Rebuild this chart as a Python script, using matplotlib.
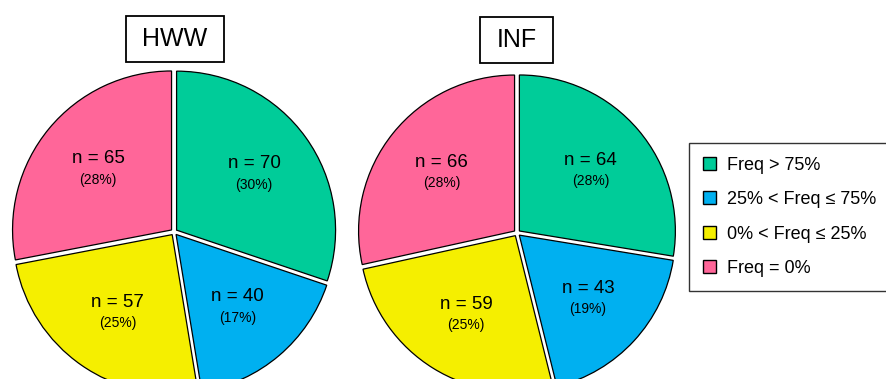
import matplotlib
matplotlib.use("Agg")
import matplotlib.pyplot as plt
from matplotlib.patches import Patch, Rectangle
import numpy as np

plt.rcParams['font.family'] = ['Liberation Sans', 'DejaVu Sans']

categories = ["Freq > 75%", "25% < Freq \u2264 75%", "0% < Freq \u2264 25%", "Freq = 0%"]
colors = ["#00CC99", "#00B0F0", "#F5EF00", "#FF6699"]
groups = ["HWW", "INF"]
hww_counts = [70, 40, 57, 65]
inf_counts = [64, 43, 59, 66]

W, H = 887, 379
fig = plt.figure(figsize=(W / 100, H / 100), dpi=100)

# layout: (center x, center y, radius) in pixels, title box (x0, y0, x1, y1)
layouts = [
    ((174, 232, 159), (126, 16, 224, 62)),
    ((517, 233, 156), (480, 17, 553, 63)),
]

for name, counts, ((cx, cy, R), (bx0, by0, bx1, by1)) in zip(groups, [hww_counts, inf_counts], layouts):
    L = 1.2
    ax = fig.add_axes([(cx - L * R) / W, 1 - (cy + L * R) / H, 2 * L * R / W, 2 * L * R / H])
    wedges, _ = ax.pie(counts, colors=colors, startangle=90, counterclock=False,
                       explode=[0.02] * len(counts),
                       wedgeprops=dict(edgecolor="black", linewidth=0.9))
    ax.set_xlim(-L, L)
    ax.set_ylim(-L, L)
    ax.set_aspect("equal")
    ax.axis("off")
    total = sum(counts)
    for w, c in zip(wedges, counts):
        th = np.deg2rad((w.theta1 + w.theta2) / 2)
        x = w.center[0] + 0.6 * np.cos(th)
        y = w.center[1] + 0.6 * np.sin(th)
        ax.text(x, y + 0.066, f"n = {c}", ha="center", va="center", fontsize=13.5)
        ax.text(x, y - 0.066, f"({round(100 * c / total)}%)", ha="center", va="center", fontsize=10)
    fig.add_artist(Rectangle((bx0 / W, 1 - by1 / H), (bx1 - bx0) / W, (by1 - by0) / H,
                             transform=fig.transFigure, fill=False, edgecolor="black", linewidth=1.3))
    fig.text((bx0 + bx1) / 2 / W, 1 - (by0 + by1) / 2 / H, name, ha="center", va="center", fontsize=18)

handles = [Patch(facecolor=c, edgecolor="black", linewidth=1.0) for c in colors]
leg = fig.legend(handles, categories, loc="upper left", bbox_to_anchor=(689 / W, 1 - 143 / H),
                 bbox_transform=fig.transFigure, fontsize=13, frameon=True, fancybox=False,
                 edgecolor="black", borderpad=0.75, labelspacing=0.97, handlelength=0.75,
                 handleheight=0.75, handletextpad=0.6, borderaxespad=0)
leg.get_frame().set_linewidth(1.0)

fig.savefig("out.png", dpi=100)
